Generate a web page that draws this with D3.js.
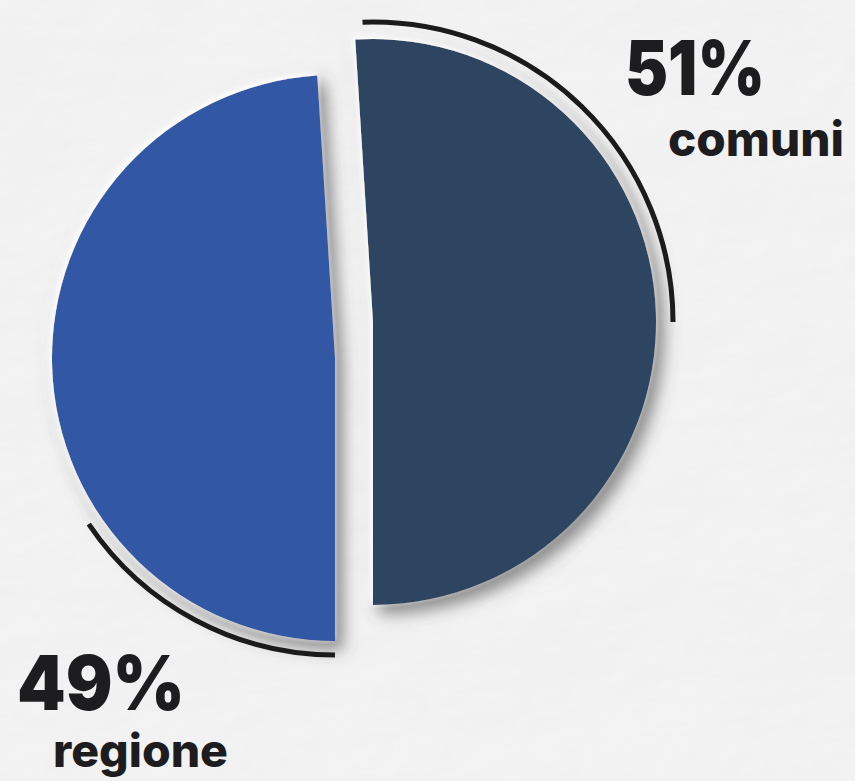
<!DOCTYPE html>
<html>
<head>
<meta charset="utf-8">
<script src="https://cdn.jsdelivr.net/npm/d3@7"></script>
<style>
  html, body { margin: 0; padding: 0; background: #f2f2f3; }
  svg { display: block; }
  .pct { font-family: Inter, Lato, "Open Sans", sans-serif; font-weight: 900; fill: #1d1d1f; }
  .cat { font-family: Inter, Lato, "Open Sans", sans-serif; font-weight: 800; fill: #1d1d1f; }
</style>
</head>
<body>
<script>
// Share of the funding: municipalities vs. region
const categories = ["comuni", "regione"];
const values = [51, 49];
const percentLabels = ["51%", "49%"];
const sliceColors = ["#2e4462", "#3059a5"];

const W = 855, H = 781;
const svg = d3.select("body").append("svg").attr("width", W).attr("height", H);
const defs = svg.append("defs");

// crumpled-paper background
const paper = defs.append("filter").attr("id", "paper").attr("x", 0).attr("y", 0).attr("width", 1).attr("height", 1);
paper.append("feTurbulence").attr("type", "fractalNoise").attr("baseFrequency", "0.005 0.008")
  .attr("numOctaves", 5).attr("seed", 11).attr("result", "noise");
const light = paper.append("feDiffuseLighting").attr("in", "noise").attr("lighting-color", "#ffffff")
  .attr("surfaceScale", 4).attr("result", "lit");
light.append("feDistantLight").attr("azimuth", 225).attr("elevation", 60);

// soft drop shadow under the slices
const shadow = defs.append("filter").attr("id", "shadow").attr("x", "-20%").attr("y", "-20%").attr("width", "145%").attr("height", "145%");
shadow.append("feDropShadow").attr("dx", -3).attr("dy", -3).attr("stdDeviation", 3)
  .attr("flood-color", "#ffffff").attr("flood-opacity", 1).attr("result", "glow");
shadow.append("feDropShadow").attr("in", "glow").attr("dx", 8).attr("dy", 9).attr("stdDeviation", 8)
  .attr("flood-color", "#4a4a4a").attr("flood-opacity", 0.6);

svg.append("rect").attr("width", W).attr("height", H).attr("fill", "#f3f3f4");
svg.append("rect").attr("width", W).attr("height", H).attr("filter", "url(#paper)").attr("opacity", 0.22);

// pie layout: the first slice ends pointing straight down
const total = d3.sum(values);
const start = Math.PI - 2 * Math.PI * values[0] / total;
const pie = d3.pie().sort(null).startAngle(start).endAngle(start + 2 * Math.PI);
const arcs = pie(values);

const R = 283;
const arc = d3.arc().innerRadius(0).outerRadius(R);
const centers = [[373, 322], [335, 358]]; // second slice pulled out down-left

const g = svg.append("g");
arcs.forEach((d, i) => {
  g.append("path")
    .attr("transform", `translate(${centers[i][0]},${centers[i][1]})`)
    .attr("d", arc(d))
    .attr("fill", sliceColors[i])
    .attr("filter", "url(#shadow)");
});

// thin outer rings marking each slice
const ring = d3.arc();
const rings = [
  { c: centers[0], r: 300, a0: -2, a1: 90 },
  { c: centers[1], r: 297, a0: 180, a1: 236 }
];
rings.forEach(o => {
  svg.append("path")
    .attr("transform", `translate(${o.c[0]},${o.c[1]})`)
    .attr("d", ring({ innerRadius: o.r, outerRadius: o.r, startAngle: o.a0 * Math.PI / 180, endAngle: o.a1 * Math.PI / 180 }))
    .attr("fill", "none").attr("stroke", "#1b1b1b").attr("stroke-width", 5).attr("stroke-linecap", "round");
});

// labels
const labelPos = [
  { pct: [625, 95, 140], cat: [668, 156, 176], cs: 48 },
  { pct: [17, 710, 168], cat: [53, 767, 175], cs: 46 }
];
labelPos.forEach((p, i) => {
  svg.append("text").attr("class", "pct").attr("x", p.pct[0]).attr("y", p.pct[1])
    .attr("font-size", 76).attr("textLength", p.pct[2]).attr("lengthAdjust", "spacingAndGlyphs")
    .text(percentLabels[i]);
  svg.append("text").attr("class", "cat").attr("x", p.cat[0]).attr("y", p.cat[1])
    .attr("font-size", p.cs).attr("textLength", p.cat[2]).attr("lengthAdjust", "spacingAndGlyphs")
    .text(categories[i]);
});
</script>
</body>
</html>
